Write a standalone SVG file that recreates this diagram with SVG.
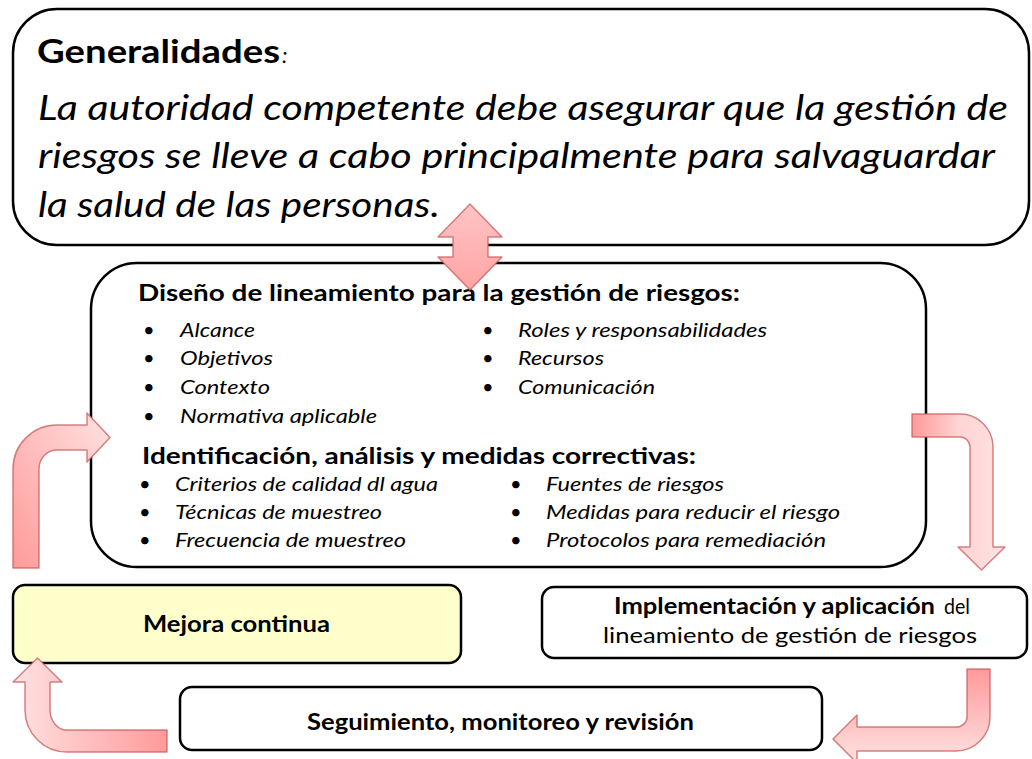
<svg xmlns="http://www.w3.org/2000/svg" width="1032" height="759" viewBox="0 0 1032 759">
<style>
.box{fill:#ffffff;stroke:#000000;stroke-width:2.5}
.yel{fill:#FFFFCC;stroke:#000000;stroke-width:2.5}
.t{font-family:Lato,"Liberation Sans",Arial,sans-serif;fill:#000000}
.b{font-weight:bold}
.i{font-style:italic}
.h1{font-size:33px}
.big{font-size:34px}
.hd{font-size:22px}
.li{font-size:20px}
.nd{font-size:22px}
.arr{stroke:#C85A5A;stroke-opacity:0.75;stroke-width:1.5;stroke-linejoin:round}
</style>
<defs>
<linearGradient id="gLeft" x1="0" y1="1" x2="1" y2="0">
<stop offset="0" stop-color="#FF9A9A"/><stop offset="1" stop-color="#FFE2E2"/>
</linearGradient>
<linearGradient id="gRight" x1="0" y1="0" x2="1" y2="0">
<stop offset="0" stop-color="#FF9A9A"/><stop offset="0.5" stop-color="#FFD4D4"/><stop offset="1" stop-color="#FFE2E2"/>
</linearGradient>
<linearGradient id="gBR" x1="0" y1="0" x2="0" y2="1">
<stop offset="0" stop-color="#FF9A9A"/><stop offset="1" stop-color="#FFE2E2"/>
</linearGradient>
<linearGradient id="gBL" x1="1" y1="0" x2="0" y2="0">
<stop offset="0" stop-color="#FF9A9A"/><stop offset="1" stop-color="#FFE2E2"/>
</linearGradient>
<linearGradient id="gDbl" x1="0" y1="0" x2="0" y2="1">
<stop offset="0" stop-color="#FFC4C4"/><stop offset="1" stop-color="#FFA4A4"/>
</linearGradient>
</defs>

<g id="node-generalidades">
<rect class="box" x="13" y="9" width="1016" height="236" rx="44" ry="44"/>
<text class="t b h1" x="37" y="63" textLength="243" lengthAdjust="spacingAndGlyphs">Generalidades</text>
<text class="t i" x="282" y="63" font-size="22">:</text>
<text class="t i big" x="38" y="120" textLength="970" lengthAdjust="spacingAndGlyphs">La autoridad competente debe asegurar que la gestión de</text>
<text class="t i big" x="38" y="168" textLength="957" lengthAdjust="spacingAndGlyphs">riesgos se lleve a cabo principalmente para salvaguardar</text>
<text class="t i big" x="38" y="217" textLength="402" lengthAdjust="spacingAndGlyphs">la salud de las personas.</text>
</g>

<g id="node-diseno">
<rect class="box" x="91" y="263" width="835" height="304" rx="46" ry="46"/>
<text class="t b hd" x="138" y="301" textLength="602" lengthAdjust="spacingAndGlyphs">Diseño de lineamiento para la gestión de riesgos:</text>
<g class="t li">
<text x="143" y="337">•</text><text class="i" x="180" y="337" textLength="75" lengthAdjust="spacingAndGlyphs">Alcance</text>
<text x="143" y="365">•</text><text class="i" x="180" y="365" textLength="93" lengthAdjust="spacingAndGlyphs">Objetivos</text>
<text x="143" y="394">•</text><text class="i" x="180" y="394" textLength="90" lengthAdjust="spacingAndGlyphs">Contexto</text>
<text x="143" y="423">•</text><text class="i" x="180" y="423" textLength="197" lengthAdjust="spacingAndGlyphs">Normativa aplicable</text>
<text x="482" y="337">•</text><text class="i" x="518" y="337" textLength="249" lengthAdjust="spacingAndGlyphs">Roles y responsabilidades</text>
<text x="482" y="365">•</text><text class="i" x="518" y="365" textLength="86" lengthAdjust="spacingAndGlyphs">Recursos</text>
<text x="482" y="394">•</text><text class="i" x="518" y="394" textLength="137" lengthAdjust="spacingAndGlyphs">Comunicación</text>
</g>
<text class="t b hd" x="142" y="464" textLength="554" lengthAdjust="spacingAndGlyphs">Identificación, análisis y medidas correctivas:</text>
<g class="t li">
<text x="139" y="491">•</text><text class="i" x="175" y="491" textLength="263" lengthAdjust="spacingAndGlyphs">Criterios de calidad dl agua</text>
<text x="139" y="519">•</text><text class="i" x="175" y="519" textLength="207" lengthAdjust="spacingAndGlyphs">Técnicas de muestreo</text>
<text x="139" y="547">•</text><text class="i" x="175" y="547" textLength="231" lengthAdjust="spacingAndGlyphs">Frecuencia de muestreo</text>
<text x="510" y="491">•</text><text class="i" x="546" y="491" textLength="178" lengthAdjust="spacingAndGlyphs">Fuentes de riesgos</text>
<text x="510" y="519">•</text><text class="i" x="546" y="519" textLength="294" lengthAdjust="spacingAndGlyphs">Medidas para reducir el riesgo</text>
<text x="510" y="547">•</text><text class="i" x="546" y="547" textLength="280" lengthAdjust="spacingAndGlyphs">Protocolos para remediación</text>
</g>
</g>

<g id="node-mejora">
<rect class="yel" x="13" y="585" width="448" height="78" rx="12" ry="12"/>
<text class="t b nd" x="143" y="632" textLength="187" lengthAdjust="spacingAndGlyphs">Mejora continua</text>
</g>

<g id="node-implementacion">
<rect class="box" x="542" y="587" width="485" height="71" rx="12" ry="12"/>
<text class="t b nd" x="614" y="614" textLength="321" lengthAdjust="spacingAndGlyphs">Implementación y aplicación</text>
<text class="t nd" x="944" y="614" textLength="26" lengthAdjust="spacingAndGlyphs">del</text>
<text class="t nd" x="603" y="643" textLength="374" lengthAdjust="spacingAndGlyphs">lineamiento de gestión de riesgos</text>
</g>

<g id="node-seguimiento">
<rect class="box" x="180" y="687" width="642" height="63" rx="12" ry="12"/>
<text class="t b nd" x="307" y="730" textLength="387" lengthAdjust="spacingAndGlyphs">Seguimiento, monitoreo y revisión</text>
</g>

<g id="connectors">
<path class="arr" fill="url(#gDbl)" d="M470 204 L502 237 L488 237 L488 257 L502 257 L470 290 L438 257 L453 257 L453 237 L438 237 Z"/>
<path class="arr" fill="url(#gLeft)" d="M13 568 L13 469 A44 44 0 0 1 57 425 L87 425 L87 413 L110 437.5 L87 462 L87 450 L57 450 A18 19 0 0 0 39 469 L39 568 Z"/>
<path class="arr" fill="url(#gRight)" d="M912 414 L960 414 A33 33 0 0 1 993 447 L993 547 L1005 547 L981.5 570 L958 547 L970 547 L970 447 A10 10 0 0 0 960 437 L912 437 Z"/>
<path class="arr" fill="url(#gBR)" d="M967 669 L990 669 L990 717 A34 34 0 0 1 956 751 L857 751 L857 763 L833 739 L857 715 L857 727 L956 727 A11 10 0 0 0 967 717 Z"/>
<path class="arr" fill="url(#gBL)" d="M167 730 L67 730 A17 20 0 0 1 50 710 L50 682 L62 682 L37.5 658 L13 682 L25 682 L25 710 A42 42 0 0 0 67 752 L167 752 Z"/>
</g>
</svg>
